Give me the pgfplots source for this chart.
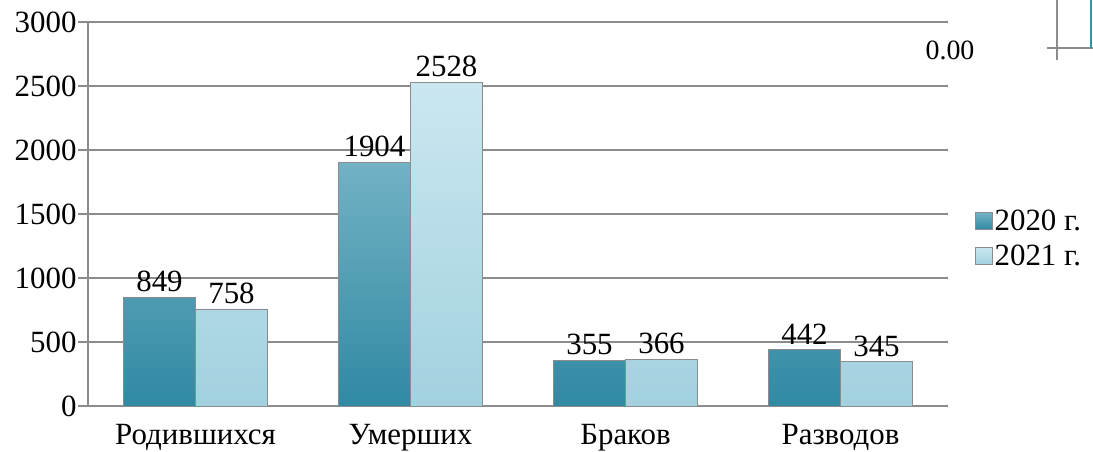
\documentclass[border=0pt]{standalone}
\usepackage{fontspec}
\setmainfont{Liberation Serif}
\usepackage{pgfplots}
\pgfplotsset{compat=1.18}
\definecolor{gridc}{HTML}{8C8C8C}
\definecolor{aTop}{HTML}{72B2C4}
\definecolor{aBot}{HTML}{3089A3}
\definecolor{bTop}{HTML}{CAE7F0}
\definecolor{bBot}{HTML}{A2D1DF}
\definecolor{teal1}{HTML}{3F8FA5}
\begin{document}
\begin{tikzpicture}[x=1bp,y=1bp]
\begin{axis}[
  at={(88bp,46bp)}, anchor=south west,
  scale only axis, width=860bp, height=384bp,
  xmin=-0.5, xmax=3.5, ymin=0, ymax=3000,
  ybar, bar width=0.335, 
  axis lines*=left,
  axis line style={draw=gridc, line width=1.5bp},
  ytick={0,500,...,3000},
  ymajorgrids, grid style={draw=gridc, line width=1.5bp},
  tick align=outside, major tick length=10bp,
  ytick style={draw=gridc, line width=1.5bp},
  xtick={0,1,2,3},
  xticklabels={Родившихся, Умерших, Браков, Разводов},
  xtick style={draw=none},
  extra x ticks={-0.5,0.5,1.5,2.5,3.5},
  extra x tick labels={},
  extra x tick style={grid=none, major tick length=9bp, tick style={draw=gridc, line width=1.5bp}},
  tick label style={font=\fontsize{31}{36}\selectfont},
  yticklabel style={xshift=2bp},
  xticklabel style={yshift=-5bp},
  /pgf/number format/assume math mode=true,
  /pgf/number format/1000 sep={},
  nodes near coords,
  every node near coord/.append style={font=\fontsize{31}{36}\selectfont, inner sep=1bp, yshift=4bp, /pgf/number format/1000 sep={}},
  clip=false,
  legend style={at={(axis description cs:1.031,0.436)}, anchor=west, draw=none, fill=none,
    font=\fontsize{31}{36}\selectfont, inner sep=0pt, row sep=9bp,
    /tikz/every even column/.append style={column sep=3bp}},
  legend cell align=left,
  legend image code/.code={\draw[#1, draw=gridc, line width=0.8bp] (0bp,-8.5bp) rectangle (17bp,8.5bp);},
]
\addplot[ybar, bar shift=-0.1675, top color=aTop, bottom color=aBot, draw=gridc, line width=0.8bp]
  coordinates {(0,849) (1,1904) (2,355) (3,442)};
\addplot[ybar, bar shift=0.1675, top color=bTop, bottom color=bBot, draw=gridc, line width=0.8bp]
  coordinates {(0,758) (1,2528) (2,366) (3,345)};
\legend{2020 г., 2021 г.}
\end{axis}
\node[font=\fontsize{28}{32}\selectfont] at (950,402) {0.00};
\draw[gridc, line width=1.5bp] (1057,452) -- (1057,392);
\draw[gridc, line width=1.5bp] (1047,404) -- (1093,404);
\draw[teal1, line width=1.5bp] (1091,452) -- (1091,404);
\pgfresetboundingbox
\useasboundingbox (0,0) rectangle (1093,452);
\end{tikzpicture}
\end{document}
